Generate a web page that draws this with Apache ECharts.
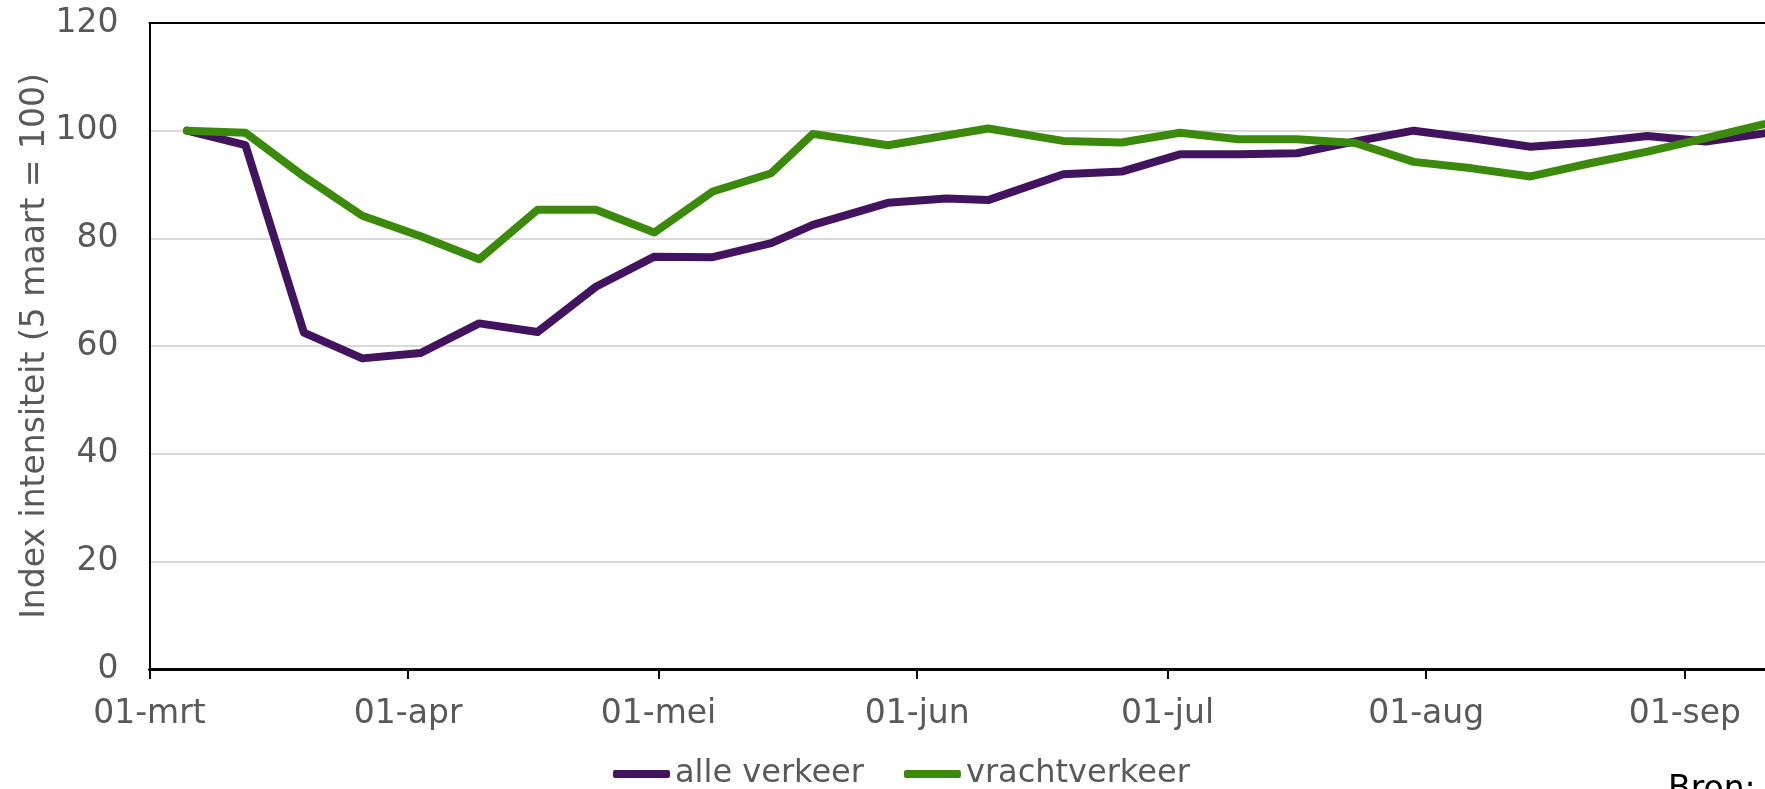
<!DOCTYPE html>
<html>
<head>
<meta charset="utf-8">
<script src="https://cdn.jsdelivr.net/npm/echarts@6/dist/echarts.min.js"></script>
<style>
  html, body { margin: 0; padding: 0; background: #fff; }
  #main { width: 1765px; height: 789px; }
</style>
</head>
<body>
<div id="main"></div>
<script>
// meetdata (weekly), index 5 maart = 100
var dates = ['2020-03-05', '2020-03-12', '2020-03-19', '2020-03-26', '2020-04-02', '2020-04-09',
  '2020-04-16', '2020-04-23', '2020-04-30', '2020-05-07', '2020-05-14', '2020-05-19',
  '2020-05-28', '2020-06-04', '2020-06-09', '2020-06-18', '2020-06-25', '2020-07-02',
  '2020-07-09', '2020-07-16', '2020-07-23', '2020-07-30', '2020-08-06', '2020-08-13',
  '2020-08-20', '2020-08-27', '2020-09-03', '2020-09-10']
var alleVerkeer = [100, 97.3, 62.5, 57.7, 58.7, 64.2, 62.6, 71.0, 76.6, 76.5, 79.1, 82.5,
  86.6, 87.4, 87.1, 91.9, 92.4, 95.6, 95.6, 95.8, 98.0, 100.0, 98.6, 97.0, 97.8, 99.0, 98.0, 99.5]
var vrachtverkeer = [100, 99.6, 91.5, 84.2, 80.4, 76.1, 85.3, 85.3, 81.1, 88.7, 92.1, 99.4,
  97.3, 99.1, 100.4, 98.1, 97.8, 99.6, 98.4, 98.4, 97.7, 94.2, 93.0, 91.5, 93.9, 96.1, 98.6, 101.2]

var monthTicks = ['2020-03-01', '2020-04-01', '2020-05-01', '2020-06-01', '2020-07-01', '2020-08-01', '2020-09-01']
var monthLabels = ['01-mrt', '01-apr', '01-mei', '01-jun', '01-jul', '01-aug', '01-sep']
var yTicks = [0, 20, 40, 60, 80, 100, 120]

// datum -> dagnummer vanaf 1 maart (x-as lineair in dagen)
var DAG = 86400000
var start = Date.UTC(2020, 2, 1)
function toDay(s) {
  var p = s.split('-')
  return Math.round((Date.UTC(+p[0], +p[1] - 1, +p[2]) - start) / DAG)
}
var tickDays = monthTicks.map(toDay)
// punt staat midden in het dagvak (datum-as "tussen maatstreepjes")
function mid(d) { return toDay(d) + 0.5 }

var grijs = '#595959'
var font = 'DejaVu Sans'
var fs = 33
var xMax = 193.6 // rechterrand van het beeld, grafiek loopt verder door

var myChart = echarts.init(document.getElementById('main'))

var option = {
  animation: false,
  textStyle: { fontFamily: font },
  grid: {
    left: 149.5,
    top: 23,
    right: 0,
    bottom: 120
  },
  legend: {
    left: 613,
    top: 758,
    padding: 0,
    itemWidth: 57,
    itemHeight: 8,
    itemGap: 40,
    icon: 'roundRect',
    textStyle: { color: grijs, fontSize: 32, fontFamily: font },
    data: ['alle verkeer', 'vrachtverkeer']
  },
  xAxis: [
    {
      type: 'value',
      min: tickDays[0],
      max: xMax,
      axisLine: { show: true, lineStyle: { color: '#000', width: 3 } },
      axisTick: {
        show: true,
        length: 10,
        lineStyle: { color: '#000', width: 2 },
        customValues: tickDays
      },
      axisLabel: {
        customValues: tickDays,
        color: grijs,
        fontSize: fs,
        fontFamily: font,
        margin: 29,
        formatter: function (val) {
          var i = tickDays.indexOf(val)
          return i >= 0 ? monthLabels[i] : ''
        }
      },
      splitLine: { show: false }
    },
    {
      // bovenrand van het plotvlak
      type: 'value',
      position: 'top',
      min: tickDays[0],
      max: xMax,
      axisLine: { show: true, lineStyle: { color: '#000', width: 2 } },
      axisTick: { show: false },
      axisLabel: { show: false },
      splitLine: { show: false }
    }
  ],
  yAxis: {
    type: 'value',
    min: yTicks[0],
    max: yTicks[yTicks.length - 1],
    interval: 20,
    name: 'Index intensiteit (5 maart = 100)',
    nameLocation: 'middle',
    nameRotate: 90,
    nameGap: 98,
    nameMoveOverlap: false,
    nameTextStyle: { color: grijs, fontSize: fs, fontFamily: font },
    axisLine: { show: true, lineStyle: { color: '#000', width: 2 } },
    axisTick: { show: false },
    axisLabel: { color: grijs, fontSize: fs, fontFamily: font, margin: 31 },
    splitLine: { show: true, lineStyle: { color: '#d9d9d9', width: 2 } }
  },
  series: [
    {
      name: 'alle verkeer',
      type: 'line',
      showSymbol: false,
      symbol: 'none',
      color: '#42145f',
      lineStyle: { width: 8, color: '#42145f', cap: 'round', join: 'round' },
      data: dates.map(function (d, i) { return [mid(d), alleVerkeer[i]] })
    },
    {
      name: 'vrachtverkeer',
      type: 'line',
      showSymbol: false,
      symbol: 'none',
      color: '#3b8a0c',
      lineStyle: { width: 8, color: '#3b8a0c', cap: 'round', join: 'round' },
      data: dates.map(function (d, i) { return [mid(d), vrachtverkeer[i]] })
    }
  ],
  graphic: [
    {
      type: 'text',
      left: 1668,
      top: 774,
      style: { text: 'Bron:', fill: '#000', font: fs + 'px "DejaVu Sans"' }
    }
  ]
}

myChart.setOption(option)
</script>
</body>
</html>
